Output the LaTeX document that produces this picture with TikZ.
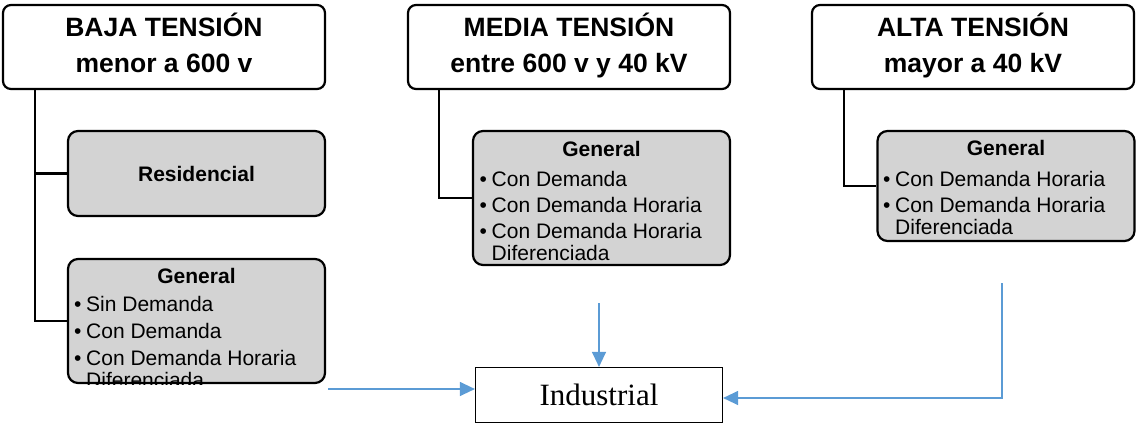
\documentclass[tikz,border=0pt]{standalone}
\usepackage{fontspec}
\setmainfont{Liberation Sans}
\newfontfamily\timesfont{Liberation Serif}
\usetikzlibrary{arrows.meta}
\definecolor{boxgray}{HTML}{D3D3D3}
\definecolor{flowblue}{HTML}{5B9BD5}
\newcommand{\bitem}[1]{\makebox[12pt][l]{\textbullet}#1}
\newcommand{\bcont}[1]{\hspace*{12pt}#1}
\begin{document}
\begin{tikzpicture}[x=1pt, y=-1pt,
  head/.style={draw, line width=2.2pt, rounded corners=8pt, minimum width=322pt,
    minimum height=84pt, inner sep=0pt, align=center,
    font=\bfseries\fontsize{26.5}{36}\selectfont},
  sub/.style={draw, fill=boxgray, line width=2.2pt, rounded corners=10pt,
    minimum width=257pt, inner sep=0pt},
  gtitle/.style={anchor=base, inner sep=0pt, font=\bfseries\fontsize{21}{26}\selectfont},
  glist/.style={anchor=north west, inner sep=0pt, align=left,
    font=\fontsize{21}{26}\selectfont},
  link/.style={line width=2.2pt},
  ind/.style={draw, line width=1.2pt, minimum width=247pt, minimum height=55pt,
    font=\timesfont\fontsize{31}{31}\selectfont},
  flow/.style={draw=flowblue, line width=1.3pt, -{Triangle[length=15pt,width=14pt]}}]
\useasboundingbox (0,0) rectangle (1136,424);

\node [head] (baja) at (164,47) {\strut BAJA TENSIÓN\\\strut menor a 600 v};
\node [head] (media) at (569,47) {\strut MEDIA TENSIÓN\\\strut entre 600 v y 40 kV};
\node [head] (alta) at (973,47) {\strut ALTA TENSIÓN\\\strut mayor a 40 kV};

\node [sub, minimum height=85pt, font=\bfseries\fontsize{21}{26}\selectfont] (res) at (196.5,173.5) {Residencial};
\node [sub, minimum height=124pt] (bgen) at (196.5,321) {};
\node [sub, minimum height=134pt] (mgen) at (601.5,198) {};
\node [sub, minimum height=110pt] (agen) at (1006,186) {};

\node [gtitle] (bgenh) at (196.5,283) {General};
\begin{scope}
\clip (bgen.south west) rectangle (bgen.north east);
\node [glist, font=\fontsize{21}{27}\selectfont] (bgenl) at (74,292.1) {\strut\bitem{Sin Demanda}\\\bitem{Con Demanda}\\
  \bitem{Con Demanda Horaria}\\[-5pt]\bcont{Diferenciada}};
\end{scope}

\node [gtitle] (mgenh) at (601.5,156) {General};
\node [glist] (mgenl) at (479.5,167.8) {\strut\bitem{Con Demanda}\\\bitem{Con Demanda Horaria}\\
  \bitem{Con Demanda Horaria}\\[-4pt]\bcont{Diferenciada}};

\node [gtitle] (agenh) at (1006,155) {General};
\node [glist] (agenl) at (883,167.8) {\strut\bitem{Con Demanda Horaria}\\
  \bitem{Con Demanda Horaria}\\[-4pt]\bcont{Diferenciada}};

\coordinate (btrunk) at ([xshift=33pt]baja.south west);
\draw [link] (btrunk) |- (bgen.west);
\draw [link] (btrunk |- res.west) -- (res.west);
\draw [link] ([xshift=32pt]media.south west) |- (mgen.west);
\draw [link] ([xshift=33pt]alta.south west) |- (agen.west);

\node [ind] (ind) at (599,395) {Industrial};

\coordinate (bfree) at (328,389);
\coordinate (mfree) at (599,303);
\coordinate (afree) at (1002,283);
\draw [flow] (bfree) -- (bfree -| ind.west);
\draw [flow] (mfree) -- (mfree |- ind.north);
\draw [flow] (afree) |- ([yshift=-3pt]ind.east);
\end{tikzpicture}
\end{document}
